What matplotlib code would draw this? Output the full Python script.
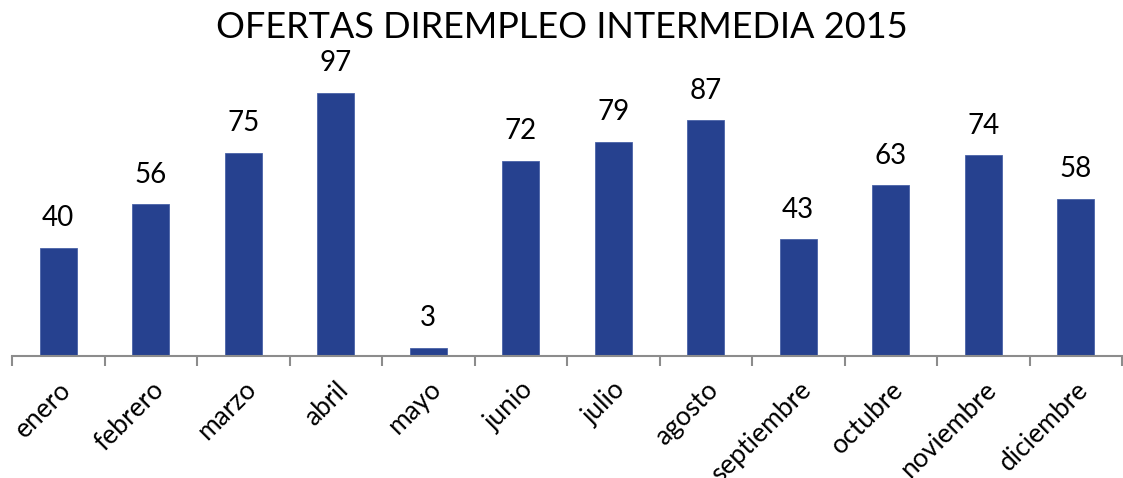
import matplotlib
matplotlib.use("Agg")
import matplotlib.pyplot as plt

months = ["enero", "febrero", "marzo", "abril", "mayo", "junio", "julio",
          "agosto", "septiembre", "octubre", "noviembre", "diciembre"]
values = [40, 56, 75, 97, 3, 72, 79, 87, 43, 63, 74, 58]
title = "OFERTAS DIREMPLEO INTERMEDIA 2015"

plt.rcParams['font.family'] = ['Lato', 'DejaVu Sans']

W, H = 1123, 478
fig = plt.figure(figsize=(W / 100, H / 100), dpi=100)
left, right = 12, 1122
top, bottom = 85, 356
ax = fig.add_axes([left / W, (H - bottom) / H, (right - left) / W, (bottom - top) / H])

x = list(range(len(months)))
bars = ax.bar(x, values, width=0.4, color="#26418F", edgecolor="#4A63A8", linewidth=0.6)
ax.set_xlim(-0.5, len(months) - 0.5)
ax.set_ylim(0, 100)

for xi, v in zip(x, values):
    ax.annotate(str(v), (xi, v), xytext=(0, 12), textcoords="offset points",
                ha="center", va="bottom", fontsize=20, color="black",
                annotation_clip=False)

for s in ["top", "right", "left"]:
    ax.spines[s].set_visible(False)
ax.spines["bottom"].set_color("#8C8C8C")
ax.spines["bottom"].set_linewidth(1.5)
ax.set_yticks([])

ax.set_xticks([i - 0.5 for i in range(len(months) + 1)], minor=False)
ax.set_xticklabels([])
ax.tick_params(axis="x", which="major", length=7, width=1.5, color="#8C8C8C", direction="out")
ax.set_xticks(x, minor=True)
ax.set_xticklabels(months, minor=True, rotation=45, ha="right", rotation_mode="anchor",
                   fontsize=19)
ax.tick_params(axis="x", which="minor", length=0, pad=15)

fig.text(0.5, 1 - 28 / H, title, ha="center", va="center", fontsize=26, color="black")

fig.savefig("out.png", dpi=100)
